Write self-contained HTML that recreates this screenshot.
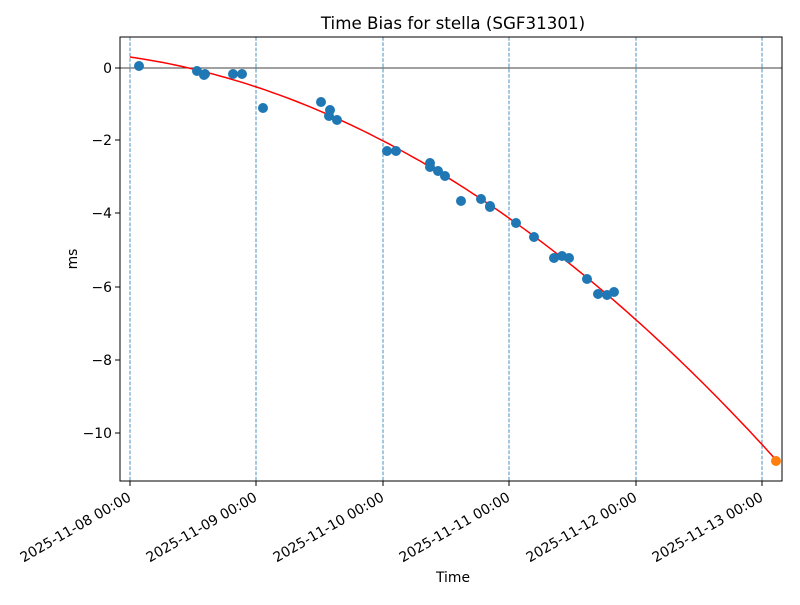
<!DOCTYPE html>
<html><head><meta charset="utf-8"><style>
body{margin:0;background:#fff;}
text{font-family:"DejaVu Sans","Liberation Sans",sans-serif;font-size:13.9px;fill:#000}
</style></head><body>
<svg id="s" width="800" height="600" xmlns="http://www.w3.org/2000/svg">
<rect width="800" height="600" fill="#fff"/>
<g stroke="#1f77b4" stroke-width="0.8" stroke-dasharray="3.7,1.6">
<line x1="130" y1="37" x2="130" y2="481"/><line x1="256" y1="37" x2="256" y2="481"/>
<line x1="383" y1="37" x2="383" y2="481"/><line x1="509" y1="37" x2="509" y2="481"/>
<line x1="636" y1="37" x2="636" y2="481"/><line x1="762" y1="37" x2="762" y2="481"/>
</g>
<line x1="120" y1="68" x2="782" y2="68" stroke="#000" stroke-width="0.8"/>
<polyline id="curve" fill="none" stroke="red" stroke-width="1.5"/>
<g id="pts" fill="#1f77b4"></g>
<circle cx="776" cy="461" r="5" fill="#ff7f0e"/>
<rect x="120" y="37" width="662" height="444" fill="none" stroke="#000" stroke-width="1"/>
<g stroke="#000">
<line x1="115" y1="68" x2="120" y2="68"/><line x1="115" y1="140" x2="120" y2="140"/>
<line x1="115" y1="213" x2="120" y2="213"/><line x1="115" y1="287" x2="120" y2="287"/>
<line x1="115" y1="360" x2="120" y2="360"/><line x1="115" y1="433" x2="120" y2="433"/>
<line x1="130" y1="481" x2="130" y2="486"/><line x1="256" y1="481" x2="256" y2="486"/>
<line x1="383" y1="481" x2="383" y2="486"/><line x1="509" y1="481" x2="509" y2="486"/>
<line x1="636" y1="481" x2="636" y2="486"/><line x1="762" y1="481" x2="762" y2="486"/>
</g>
<g text-anchor="end">
<text x="112" y="73">0</text><text x="112" y="145">−2</text><text x="112" y="218">−4</text>
<text x="112" y="292">−6</text><text x="112" y="365">−8</text><text x="112" y="438">−10</text>
</g>
<g text-anchor="end">
<text transform="translate(132,500) rotate(-30)">2025-11-08 00:00</text>
<text transform="translate(258,500) rotate(-30)">2025-11-09 00:00</text>
<text transform="translate(385,500) rotate(-30)">2025-11-10 00:00</text>
<text transform="translate(511,500) rotate(-30)">2025-11-11 00:00</text>
<text transform="translate(638,500) rotate(-30)">2025-11-12 00:00</text>
<text transform="translate(764,500) rotate(-30)">2025-11-13 00:00</text>
</g>
<text x="453" y="582" text-anchor="middle">Time</text>
<text transform="translate(77,259) rotate(-90)" text-anchor="middle">ms</text>
<text x="453" y="29" text-anchor="middle" style="font-size:16.7px">Time Bias for stella (SGF31301)</text>
</svg>
<script>
var p=[];for(var i=0;i<=100;i++){var t=5.11*i/100;var f=0.3-0.495*t-0.325*t*t;p.push((130+126.4*t).toFixed(1)+","+(68-36.55*f).toFixed(1));}
document.getElementById("curve").setAttribute("points",p.join(" "));
var d=[[139,66],[197,71],[205,74],[204,75],[233,74],[242,74],[263,108],[321,102],[330,110],[329,116],[337,120],[387,151],[396,151],[430,163],[430,167],[438,171],[445,176],[461,201],[481,199],[490,206],[490,207],[516,223],[534,237],[554,258],[562,256],[569,258],[587,279],[598,294],[607,295],[614,292]];
var g=document.getElementById("pts"),h="";d.forEach(function(q){h+='<circle cx="'+q[0]+'" cy="'+q[1]+'" r="5"/>';});g.innerHTML=h;
</script>
</body></html>
